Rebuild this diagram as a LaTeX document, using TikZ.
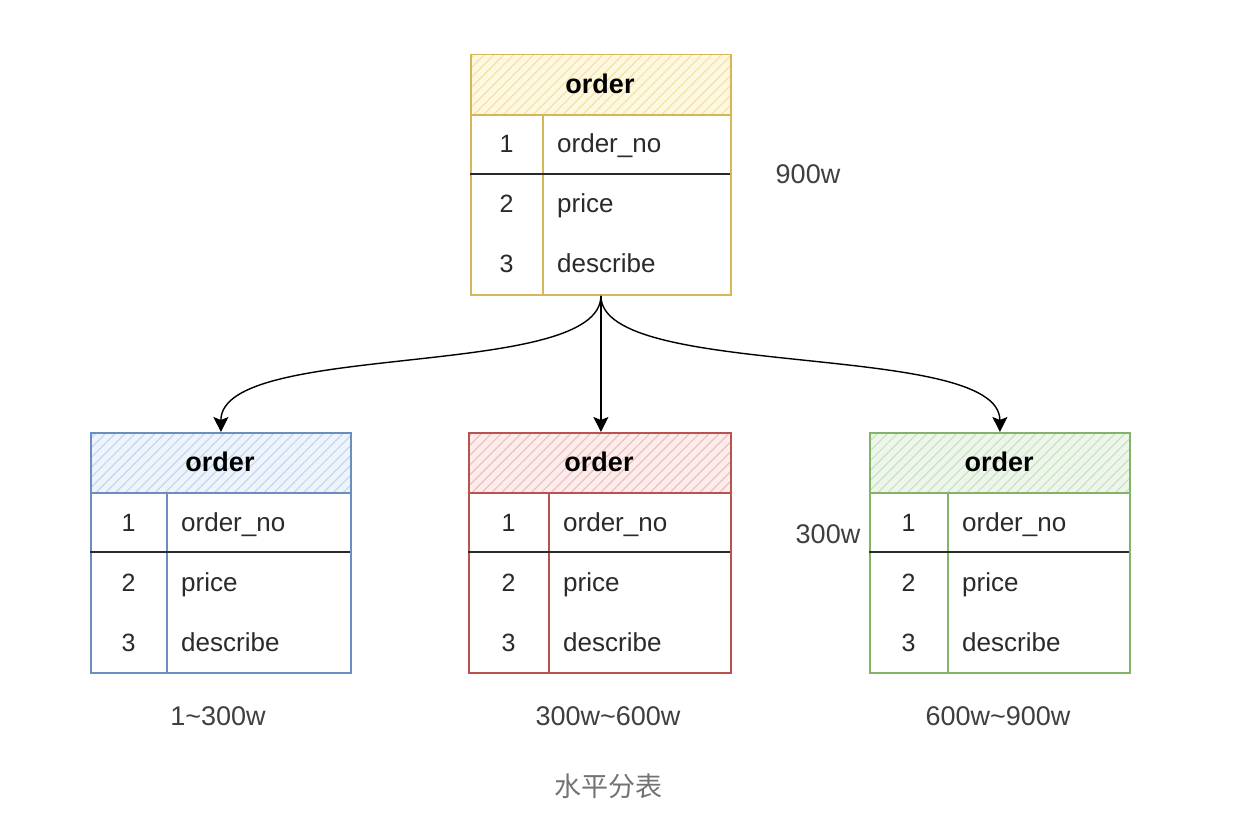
\documentclass[tikz,border=0pt]{standalone}
\usepackage{fontspec}
\setmainfont{Liberation Sans}
\newfontfamily\cjk{Noto Sans CJK SC}
\usetikzlibrary{patterns.meta,arrows.meta}
\definecolor{ystroke}{HTML}{D6B656}\definecolor{yfill}{HTML}{FFF8E0}\definecolor{yhatch}{HTML}{F3E2A6}
\definecolor{bstroke}{HTML}{6C8EBF}\definecolor{bfill}{HTML}{EEF4FC}\definecolor{bhatch}{HTML}{C5D6EE}
\definecolor{rstroke}{HTML}{B85450}\definecolor{rfill}{HTML}{FCEDEC}\definecolor{rhatch}{HTML}{EDC0BE}
\definecolor{gstroke}{HTML}{82B366}\definecolor{gfill}{HTML}{EEF6EC}\definecolor{ghatch}{HTML}{C9E2C2}
\definecolor{txt}{HTML}{2A2A2A}
\newcommand{\ordtab}[6]{% name, x, y, divider, colour prefix, width
\begin{scope}[shift={(#2,#3)}]
\node[hdrbox, draw=#5stroke, minimum width=#6, preaction={fill=#5fill},
  pattern={Lines[angle=45,distance=7pt,line width=1.2pt]}, pattern color=#5hatch] (#1h) at (0,0) {};
\node[hdrtxt] (#1t) at ({#6/2},30) {order};
\node[bodybox, draw=#5stroke, minimum width=#6] (#1b) at (0,60) {};
\draw[#5stroke, line width=1.8pt] (#4,60) -- (#4,240);
\draw[rowline] (0,120) -- (#6,120);
\node[numtxt] (#1n1) at ({#4/2},99) {1};
\node[numtxt] (#1n2) at ({#4/2},159) {2};
\node[numtxt] (#1n3) at ({#4/2},219) {3};
\node[fldtxt] (#1f1) at ({#4+14},99) {order\_no};
\node[fldtxt] (#1f2) at ({#4+14},159) {price};
\node[fldtxt] (#1f3) at ({#4+14},219) {describe};
\end{scope}}
\begin{document}
\begin{tikzpicture}[x=1pt,y=-1pt,
  hdrbox/.style={rectangle, anchor=north west, minimum height=60, line width=1.8pt, inner sep=0pt},
  bodybox/.style={rectangle, anchor=north west, minimum height=180, line width=1.8pt, inner sep=0pt},
  hdrtxt/.style={font=\fontsize{27}{32}\selectfont\bfseries, text=black},
  numtxt/.style={font=\fontsize{25}{30}\selectfont, text=txt, anchor=base, inner sep=0pt},
  fldtxt/.style={font=\fontsize{26}{30}\selectfont, text=txt, anchor=base west, inner sep=0pt},
  lbl/.style={font=\fontsize{27}{32}\selectfont, text=txt!90},
  rowline/.style={line width=1.3pt, draw=txt},
  arr/.style={line width=1.4pt, draw=black, -{Stealth[length=15pt,width=15pt,inset=3pt]}}]
\useasboundingbox (0,0) rectangle (1250,826);
\fill[white] (0,0) rectangle (1250,826);
\ordtab{top}{470}{54}{73}{y}{260}
\ordtab{blu}{90}{432}{77}{b}{260}
\ordtab{red}{468}{432}{81}{r}{262}
\ordtab{grn}{869}{432}{79}{g}{260}
\draw[arr] (topb.south) -- (topb.south |- redh.north);
\draw[arr] (topb.south) .. controls +(0,85) and +(0,-92) .. (bluh.north);
\draw[arr] (topb.south) .. controls +(0,85) and +(0,-92) .. (grnh.north);
\node[lbl] (l900) at (808,174) {900w};
\node[lbl] (l300) at (828,534) {300w};
\node[lbl] (lb) at (218,716) {1\textasciitilde300w};
\node[lbl] (lr) at (608,716) {300w\textasciitilde600w};
\node[lbl] (lg) at (998,716) {600w\textasciitilde900w};
\node[font=\cjk\fontsize{27}{32}\selectfont, text=black!55] (cap) at (608,786) {水平分表};
\end{tikzpicture}
\end{document}
